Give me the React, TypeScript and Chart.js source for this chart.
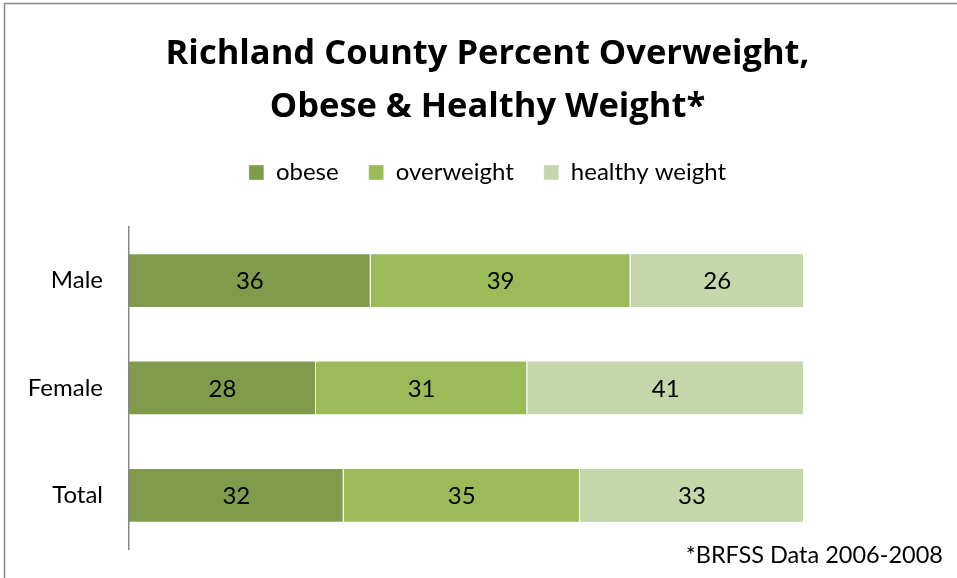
import React, { useEffect, useRef } from "react";
import { Chart, registerables } from "chart.js";

Chart.register(...registerables);

const categories = ["Male", "Female", "Total"];
const seriesNames = ["obese", "overweight", "healthy weight"];
const obese = [35.8, 27.7, 31.8];
const overweight = [38.5, 31.3, 35.0];
const healthyWeight = [25.7, 41.0, 33.2];
const seriesColors = ["#7F9B4B", "#9BBB59", "#C5D6AB"];
const titleLines = ["Richland County Percent Overweight,", "Obese & Healthy Weight*"];
const footnote = "*BRFSS Data 2006-2008";

const FONT = "Lato, 'DejaVu Sans', sans-serif";
const TITLE_FONT = "'Open Sans', Lato, sans-serif";

const framePlugin = {
  id: "frame",
  beforeDraw(chart: any) {
    const ctx = chart.ctx;
    ctx.save();
    ctx.fillStyle = "#ffffff";
    ctx.fillRect(0, 0, chart.width, chart.height);
    ctx.strokeStyle = "#878787";
    ctx.lineWidth = 1.5;
    ctx.strokeRect(4.5, 3.5, chart.width + 20, chart.height + 20);
    ctx.restore();
  },
};

const labelsPlugin = {
  id: "barLabels",
  afterDatasetsDraw(chart: any) {
    const ctx = chart.ctx;
    ctx.save();
    ctx.font = `24px ${FONT}`;
    ctx.fillStyle = "#000000";
    ctx.textAlign = "center";
    ctx.textBaseline = "middle";
    chart.data.datasets.forEach((ds: any, i: number) => {
      const meta = chart.getDatasetMeta(i);
      meta.data.forEach((el: any, j: number) => {
        const p = el.getCenterPoint();
        ctx.fillText(String(Math.round(ds.data[j])), p.x, p.y + 1);
      });
    });
    ctx.font = `23.5px ${FONT}`;
    ctx.textAlign = "right";
    ctx.textBaseline = "alphabetic";
    ctx.fillText(footnote, 943, 563);
    ctx.restore();
  },
};

export default function App() {
  const ref = useRef<HTMLCanvasElement | null>(null);
  useEffect(() => {
    if (!ref.current) return;
    const data = [obese, overweight, healthyWeight];
    const chart = new Chart(ref.current, {
      type: "bar",
      data: {
        labels: categories,
        datasets: seriesNames.map((name, i) => ({
          label: name,
          data: data[i],
          backgroundColor: seriesColors[i],
          borderColor: "rgba(255,255,255,0.35)",
          borderWidth: 1,
          barPercentage: 0.51,
          categoryPercentage: 1,
        })),
      },
      options: {
        indexAxis: "y",
        animation: false,
        responsive: true,
        maintainAspectRatio: false,
        layout: { padding: { left: 18, right: 0, top: 0, bottom: 29 } },
        plugins: {
          title: {
            display: true,
            text: titleLines,
            color: "#000000",
            font: { family: TITLE_FONT, size: 34.5, weight: "bold", lineHeight: 1.536 },
            padding: { top: 27.7, bottom: -3.2 },
          },
          legend: {
            display: true,
            position: "top",
            labels: {
              color: "#000000",
              font: { family: FONT, size: 24 },
              boxWidth: 15,
              boxHeight: 15,
              padding: 30,
            },
          },
          tooltip: { enabled: false },
        },
        scales: {
          x: {
            stacked: true,
            position: "top",
            min: 0,
            max: 100,
            ticks: { display: false },
            grid: { display: false, drawTicks: false },
            border: { display: false },
            afterFit: (s: any) => {
              s.height = 32.5;
            },
          },
          y: {
            stacked: true,
            ticks: {
              color: "#000000",
              font: { family: FONT, size: 24 },
              padding: 26,
            },
            grid: { display: false, drawTicks: false },
            border: { display: true, color: "#868686", width: 1.5 },
            afterFit: (s: any) => {
              s.width = 111;
              s.paddingTop = 0;
              s.paddingBottom = 0;
            },
          },
          yRight: {
            type: "category",
            axis: "y",
            position: "right",
            display: true,
            ticks: { display: false },
            grid: { display: false, drawTicks: false },
            border: { display: false },
            afterFit: (s: any) => {
              s.width = 153;
              s.paddingTop = 0;
              s.paddingBottom = 0;
            },
          },
        },
      },
      plugins: [framePlugin, labelsPlugin],
    });
    return () => chart.destroy();
  }, []);
  return (
    <div style={{ position: "absolute", left: 0, top: 0, width: 957, height: 578 }}>
      <canvas ref={ref} />
    </div>
  );
}
